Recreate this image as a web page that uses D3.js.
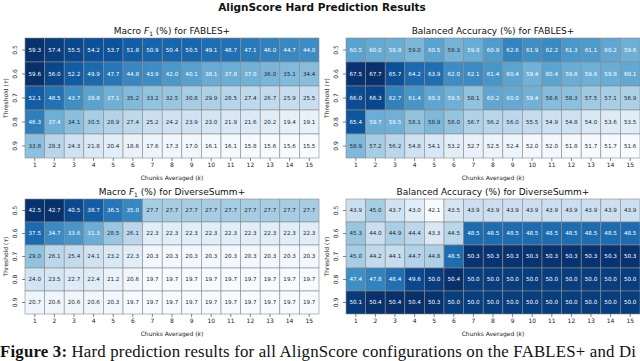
<!DOCTYPE html>
<html>
<head>
<meta charset="utf-8">
<script src="https://cdn.jsdelivr.net/npm/d3@7"></script>
<style>
  body { margin: 0; background: #fff; }
  svg { display: block; font-family: "DejaVu Sans", sans-serif; }
</style>
</head>
<body>
<div id="chart-area"></div>
<script>
// Values (rows = threshold, columns = chunks averaged)
const thresholds = ["0.5", "0.6", "0.7", "0.8", "0.9"];
const chunks = [1, 2, 3, 4, 5, 6, 7, 8, 9, 10, 11, 12, 13, 14, 15];

const f1Fables = [
  [59.3, 57.4, 55.5, 54.2, 53.7, 51.8, 50.9, 50.4, 50.5, 49.1, 48.7, 47.1, 46.0, 44.7, 44.0],
  [59.6, 56.0, 52.2, 49.9, 47.7, 44.8, 43.9, 42.0, 40.1, 38.1, 37.8, 37.0, 36.0, 35.1, 34.4],
  [52.1, 48.5, 43.7, 39.8, 37.1, 35.2, 33.2, 32.5, 30.8, 29.9, 28.5, 27.4, 26.7, 25.9, 25.5],
  [46.3, 37.4, 34.1, 30.5, 28.9, 27.4, 25.2, 24.2, 23.9, 23.0, 21.9, 21.6, 20.2, 19.4, 19.1],
  [33.8, 28.3, 24.3, 21.8, 20.4, 18.6, 17.6, 17.3, 17.0, 16.1, 16.1, 15.8, 15.6, 15.6, 15.5]
];

const baFables = [
  [60.5, 60.0, 59.8, 59.0, 60.5, 59.3, 59.8, 60.9, 62.6, 61.9, 62.2, 61.3, 61.1, 60.2, 59.6],
  [67.5, 67.7, 65.7, 64.2, 63.9, 62.0, 62.1, 61.4, 60.4, 59.4, 60.4, 59.8, 59.6, 59.8, 60.1],
  [66.0, 66.3, 62.7, 61.4, 60.3, 59.5, 58.1, 60.2, 60.0, 59.4, 58.6, 58.3, 57.5, 57.1, 56.9],
  [65.4, 59.7, 59.5, 58.1, 58.9, 58.0, 56.7, 56.2, 56.0, 55.5, 54.9, 54.8, 54.0, 53.6, 53.5],
  [58.9, 57.2, 56.2, 54.8, 54.1, 53.2, 52.7, 52.5, 52.4, 52.0, 52.0, 51.8, 51.7, 51.7, 51.6]
];

const f1Diverse = [
  [42.5, 42.7, 40.5, 38.7, 36.5, 35.0, 27.7, 27.7, 27.7, 27.7, 27.7, 27.7, 27.7, 27.7, 27.7],
  [37.5, 34.7, 33.6, 31.3, 28.5, 26.1, 22.3, 22.3, 22.3, 22.3, 22.3, 22.3, 22.3, 22.3, 22.3],
  [29.0, 26.1, 25.4, 24.1, 23.2, 22.3, 20.3, 20.3, 20.3, 20.3, 20.3, 20.3, 20.3, 20.3, 20.3],
  [24.0, 23.5, 22.7, 22.4, 21.2, 20.6, 19.7, 19.7, 19.7, 19.7, 19.7, 19.7, 19.7, 19.7, 19.7],
  [20.7, 20.6, 20.6, 20.6, 20.3, 19.7, 19.7, 19.7, 19.7, 19.7, 19.7, 19.7, 19.7, 19.7, 19.7]
];

const baDiverse = [
  [43.9, 45.0, 43.7, 43.0, 42.1, 43.5, 43.9, 43.9, 43.9, 43.9, 43.9, 43.9, 43.9, 43.9, 43.9],
  [45.3, 44.0, 44.9, 44.4, 43.3, 44.5, 48.5, 48.5, 48.5, 48.5, 48.5, 48.5, 48.5, 48.5, 48.5],
  [45.0, 44.2, 44.1, 44.7, 44.8, 48.5, 50.3, 50.3, 50.3, 50.3, 50.3, 50.3, 50.3, 50.3, 50.3],
  [47.4, 47.8, 48.4, 49.6, 50.0, 50.4, 50.0, 50.0, 50.0, 50.0, 50.0, 50.0, 50.0, 50.0, 50.0],
  [50.1, 50.4, 50.4, 50.4, 50.3, 50.0, 50.0, 50.0, 50.0, 50.0, 50.0, 50.0, 50.0, 50.0, 50.0]
];

const width = 640;
const height = 361;

const svg = d3.select("#chart-area")
  .append("svg")
  .attr("width", width)
  .attr("height", height);

// pick white or dark text the way seaborn does (by relative luminance)
function textColor(fill) {
  const c = d3.rgb(fill);
  const lin = v => {
    v = v / 255;
    return v <= 0.03928 ? v / 12.92 : Math.pow((v + 0.055) / 1.055, 2.4);
  };
  const lum = 0.2126 * lin(c.r) + 0.7152 * lin(c.g) + 0.0722 * lin(c.b);
  return lum > 0.408 ? "#262626" : "#ffffff";
}

function drawHeatmap(values, box, metric, dataset) {
  const x = d3.scaleBand().domain(chunks).range([box.x0, box.x1]);
  const y = d3.scaleBand().domain(thresholds).range([box.y0, box.y1]);

  const flat = values.flat();
  const color = d3.scaleSequential(d3.interpolateBlues)
    .domain([d3.min(flat), d3.max(flat)]);

  const cells = [];
  values.forEach((row, i) => {
    row.forEach((v, j) => cells.push({ t: thresholds[i], k: chunks[j], v: v }));
  });

  const g = svg.append("g");

  g.selectAll("rect")
    .data(cells)
    .join("rect")
    .attr("x", d => x(d.k))
    .attr("y", d => y(d.t))
    .attr("width", x.bandwidth())
    .attr("height", y.bandwidth())
    .attr("fill", d => color(d.v))
    .attr("stroke", "#8a8a8a")
    .attr("stroke-width", 0.6);

  g.selectAll("text.annot")
    .data(cells)
    .join("text")
    .attr("class", "annot")
    .attr("x", d => x(d.k) + x.bandwidth() / 2)
    .attr("y", d => y(d.t) + y.bandwidth() / 2)
    .attr("dy", "0.35em")
    .attr("text-anchor", "middle")
    .attr("font-size", 5.6)
    .attr("fill", d => textColor(color(d.v)))
    .text(d => d.v.toFixed(1));

  // x axis
  const xAxis = g.append("g")
    .attr("transform", `translate(0,${box.y1})`)
    .call(d3.axisBottom(x).tickSize(3).tickPadding(2));
  xAxis.select(".domain").remove();
  xAxis.selectAll("line").attr("stroke", "#333").attr("stroke-width", 0.6);
  xAxis.selectAll("text").attr("font-size", 6).attr("fill", "#222")
    .attr("font-family", "DejaVu Sans");

  // y axis, labels turned to read upward
  const yAxis = g.append("g")
    .attr("transform", `translate(${box.x0},0)`)
    .call(d3.axisLeft(y).tickSize(3).tickPadding(2));
  yAxis.select(".domain").remove();
  yAxis.selectAll("line").attr("stroke", "#333").attr("stroke-width", 0.6);
  yAxis.selectAll("text")
    .attr("font-size", 6)
    .attr("fill", "#222")
    .attr("font-family", "DejaVu Sans")
    .attr("x", 0)
    .attr("dy", 0)
    .attr("text-anchor", "middle")
    .attr("transform", `translate(-8,0) rotate(-90)`);

  // axis titles
  const xl = g.append("text")
    .attr("x", (box.x0 + box.x1) / 2)
    .attr("y", box.y1 + 22)
    .attr("text-anchor", "middle")
    .attr("font-size", 6)
    .attr("fill", "#222");
  xl.append("tspan").text("Chunks Averaged (");
  xl.append("tspan").attr("font-style", "italic").text("k");
  xl.append("tspan").text(")");

  const yl = g.append("text")
    .attr("transform", `translate(${box.x0 - 17},${(box.y0 + box.y1) / 2}) rotate(-90)`)
    .attr("text-anchor", "middle")
    .attr("font-size", 6)
    .attr("fill", "#222");
  yl.append("tspan").text("Threshold (");
  yl.append("tspan").attr("font-style", "italic").text("τ");
  yl.append("tspan").text(")");

  // panel title
  const t = g.append("text")
    .attr("x", (box.x0 + box.x1) / 2)
    .attr("y", box.y0 - 4)
    .attr("text-anchor", "middle")
    .attr("font-size", 9)
    .attr("fill", "#111");
  if (metric == "f1") {
    t.append("tspan").text("Macro ");
    t.append("tspan").attr("font-style", "italic").text("F");
    t.append("tspan").attr("font-size", 6).attr("dy", 1.5).text("1");
    t.append("tspan").attr("dy", -1.5).text(" (%) for " + dataset);
  } else {
    t.append("tspan").text("Balanced Accuracy (%) for " + dataset);
  }
}

const leftCol = { x0: 25, x1: 319 };
const rightCol = { x0: 346, x1: 640 };
const topRow = { y0: 38, y1: 158 };
const bottomRow = { y0: 199, y1: 314 };

drawHeatmap(f1Fables, { ...leftCol, ...topRow }, "f1", "FABLES+");
drawHeatmap(baFables, { ...rightCol, ...topRow }, "ba", "FABLES+");
drawHeatmap(f1Diverse, { ...leftCol, ...bottomRow }, "f1", "DiverseSumm+");
drawHeatmap(baDiverse, { ...rightCol, ...bottomRow }, "ba", "DiverseSumm+");

// figure title
svg.append("text")
  .attr("x", 322)
  .attr("y", 11)
  .attr("text-anchor", "middle")
  .attr("font-size", 10.5)
  .attr("font-weight", "bold")
  .attr("fill", "#111")
  .text("AlignScore Hard Prediction Results");

// caption line from the paper below the figure
const cap = svg.append("text")
  .attr("x", 0)
  .attr("y", 357)
  .attr("font-family", "Liberation Serif, Times New Roman, serif")
  .attr("font-size", 16.8)
  .attr("textLength", 636)
  .attr("lengthAdjust", "spacing")
  .attr("fill", "#111");
cap.append("tspan").attr("font-weight", "bold").text("Figure 3:");
cap.append("tspan").text(" Hard prediction results for all AlignScore configurations on the FABLES+ and Di");
</script>
</body>
</html>
